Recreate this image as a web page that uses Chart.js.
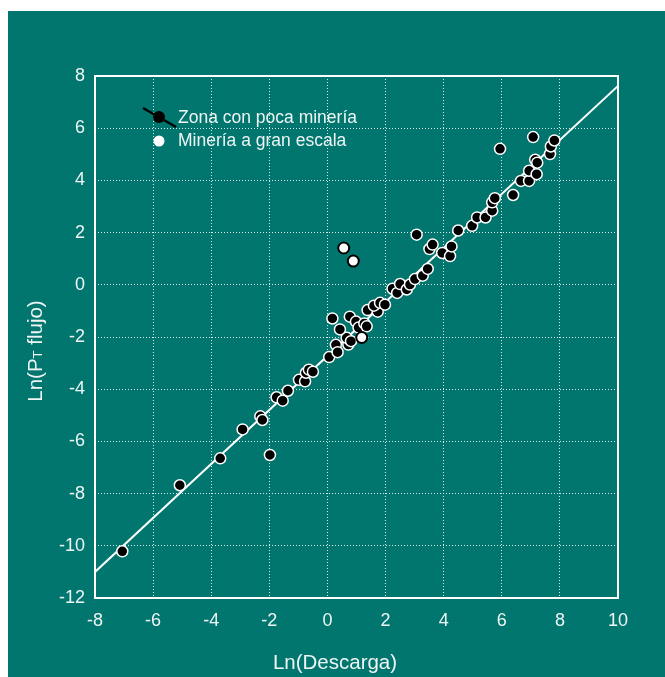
<!DOCTYPE html>
<html>
<head>
<meta charset="utf-8">
<script src="https://cdn.jsdelivr.net/npm/chart.js@4"></script>
<style>
  body { margin: 0; background: #fff; }
  #panel { position: absolute; left: 8px; top: 11px; width: 657px; height: 666px; background: #00766f; }
</style>
</head>
<body>
<div id="panel"><canvas id="grafico" width="657" height="666"></canvas></div>
<script>
// Zona con poca minería: [Ln(Descarga), Ln(PT flujo)]
const pocaX = [-7.06, -5.08, -3.69, -2.92, -2.31, -2.24, -1.98, -1.75, -1.54, -1.36,
  -0.98, -0.77, -0.74, -0.64, -0.50, 0.06, 0.29, 0.35, 0.72, 0.66,
  0.81, 0.17, 0.77, 0.43, 0.98, 1.07, 1.27, 1.35, 1.38, 1.73,
  1.60, 1.81, 1.98, 2.24, 2.40, 2.50, 2.73, 2.84, 3.01, 3.28,
  3.45, 3.07, 3.51, 3.62, 3.95, 4.22, 4.27, 4.50, 4.98, 5.15,
  5.44, 5.67, 5.67, 5.76, 6.39, 5.94, 6.66, 6.94, 6.94, 7.20,
  7.15, 7.22, 7.08, 7.66, 7.69, 7.81];
const pocaY = [-10.21, -7.68, -6.65, -5.54, -5.04, -5.18, -6.52, -4.31, -4.44, -4.06,
  -3.64, -3.70, -3.37, -3.25, -3.33, -2.77, -2.30, -2.58, -2.29, -2.03,
  -2.16, -1.29, -1.22, -1.71, -1.41, -1.64, -1.48, -1.59, -0.97, -1.03,
  -0.80, -0.69, -0.76, -0.15, -0.31, 0.03, -0.18, 0.01, 0.22, 0.35,
  0.61, 1.92, 1.37, 1.54, 1.22, 1.10, 1.47, 2.08, 2.26, 2.58,
  2.58, 2.84, 3.16, 3.32, 3.44, 5.21, 3.98, 3.98, 4.37, 4.24,
  4.79, 4.68, 5.66, 5.01, 5.30, 5.53];

// Minería a gran escala
const granX = [0.56, 0.89, 1.18];
const granY = [1.41, 0.91, -2.02];

// recta de ajuste
const ajusteX = [-8, 10];
const ajusteY = [-11.0, 7.62];

const xTicks = [-8, -6, -4, -2, 0, 2, 4, 6, 8, 10];
const yTicks = [-12, -10, -8, -6, -4, -2, 0, 2, 4, 6, 8];

const FUENTE = "'Liberation Sans', Arial, sans-serif";
const BLANCO = '#eef5f4';

const pares = (xs, ys) => xs.map((x, i) => ({ x: x, y: ys[i] }));

const decor = {
  id: 'decor',
  beforeDatasetsDraw(chart) {
    const { ctx, chartArea: a } = chart;
    ctx.save();
    ctx.strokeStyle = '#fff';
    ctx.lineWidth = 2;
    ctx.strokeRect(a.left, a.top, a.right - a.left, a.bottom - a.top);
    ctx.restore();
  },
  afterDraw(chart) {
    const { ctx, chartArea: a } = chart;
    ctx.save();
    // leyenda
    ctx.strokeStyle = '#000';
    ctx.lineWidth = 2.5;
    ctx.beginPath();
    ctx.moveTo(a.left + 48, a.top + 32);
    ctx.lineTo(a.left + 81, a.top + 51);
    ctx.stroke();
    ctx.fillStyle = '#000';
    ctx.beginPath();
    ctx.arc(a.left + 64, a.top + 41, 6, 0, Math.PI * 2);
    ctx.fill();
    ctx.fillStyle = '#fff';
    ctx.beginPath();
    ctx.arc(a.left + 64, a.top + 65, 5.5, 0, Math.PI * 2);
    ctx.fill();
    ctx.fillStyle = BLANCO;
    ctx.font = '17.5px ' + FUENTE;
    ctx.textBaseline = 'middle';
    ctx.textAlign = 'left';
    ctx.fillText('Zona con poca minería', a.left + 83, a.top + 42);
    ctx.fillText('Minería a gran escala', a.left + 83, a.top + 65);

    // títulos de ejes
    ctx.font = '20.5px ' + FUENTE;
    ctx.textAlign = 'center';
    ctx.textBaseline = 'middle';
    ctx.fillText('Ln(Descarga)', 327, 652);

    ctx.translate(26, 340);
    ctx.rotate(-Math.PI / 2);
    ctx.textBaseline = 'alphabetic';
    ctx.textAlign = 'left';
    const p1 = 'Ln(P', p2 = 'T', p3 = ' flujo)';
    ctx.font = '20.5px ' + FUENTE;
    const w1 = ctx.measureText(p1).width, w3 = ctx.measureText(p3).width;
    ctx.font = '13px ' + FUENTE;
    const w2 = ctx.measureText(p2).width;
    let x0 = -(w1 + w2 + w3) / 2;
    ctx.font = '20.5px ' + FUENTE;
    ctx.fillText(p1, x0, 8);
    ctx.font = '13px ' + FUENTE;
    ctx.fillText(p2, x0 + w1, 8);
    ctx.font = '20.5px ' + FUENTE;
    ctx.fillText(p3, x0 + w1 + w2, 8);
    ctx.restore();
  }
};

const ctx = document.getElementById('grafico').getContext('2d');

new Chart(ctx, {
  type: 'scatter',
  data: {
    datasets: [
      {
        label: 'Minería a gran escala',
        data: pares(granX, granY),
        backgroundColor: '#fff',
        borderColor: '#000',
        borderWidth: 2,
        pointRadius: 5.5,
        order: 1
      },
      {
        label: 'Zona con poca minería',
        data: pares(pocaX, pocaY),
        backgroundColor: '#000',
        borderColor: '#fff',
        borderWidth: 1.5,
        pointRadius: 5.5,
        order: 2
      },
      {
        label: 'Ajuste',
        type: 'line',
        data: pares(ajusteX, ajusteY),
        borderColor: '#fff',
        borderWidth: 2,
        pointRadius: 0,
        showLine: true,
        order: 3
      }
    ]
  },
  options: {
    responsive: false,
    animation: false,
    events: [],
    layout: { padding: { top: 65, right: 47, left: 0, bottom: 0 } },
    plugins: {
      legend: { display: false },
      tooltip: { enabled: false }
    },
    scales: {
      x: {
        type: 'linear',
        min: -8,
        max: 10,
        afterBuildTicks: (s) => { s.ticks = xTicks.map(v => ({ value: v })); },
        afterFit: (s) => { s.height = 79; },
        grid: { color: 'rgba(255,255,255,0.85)', lineWidth: 1, drawTicks: false },
        border: { display: false, dash: [1, 2] },
        ticks: { color: BLANCO, font: { family: FUENTE, size: 18 }, padding: 12, maxRotation: 0 }
      },
      y: {
        type: 'linear',
        min: -12,
        max: 8,
        afterBuildTicks: (s) => { s.ticks = yTicks.map(v => ({ value: v })); },
        afterFit: (s) => { s.width = 87; },
        grid: { color: 'rgba(255,255,255,0.85)', lineWidth: 1, drawTicks: false },
        border: { display: false, dash: [1, 2] },
        ticks: { color: BLANCO, font: { family: FUENTE, size: 18 }, padding: 10 }
      }
    }
  },
  plugins: [decor]
});
</script>
</body>
</html>
